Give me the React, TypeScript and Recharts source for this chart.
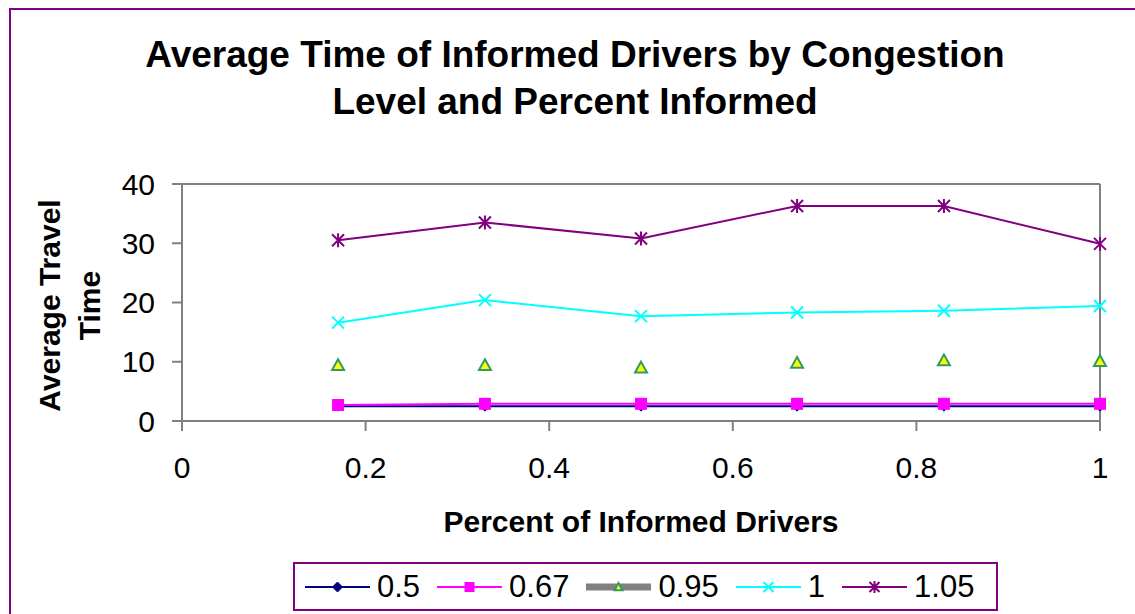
import React from 'react'
import { LineChart, Line, XAxis, YAxis, Legend, ReferenceLine } from 'recharts'

// percent of informed drivers (x) and average travel time per congestion level
const pctInformed = [0.17, 0.33, 0.5, 0.67, 0.83, 1]
const level050 = [2.5, 2.5, 2.5, 2.5, 2.5, 2.5]
const level067 = [2.7, 2.9, 2.9, 2.9, 2.9, 2.9]
const level095 = [9.4, 9.4, 9.0, 9.8, 10.2, 10.1]
const level100 = [16.6, 20.4, 17.7, 18.3, 18.6, 19.4]
const level105 = [30.5, 33.5, 30.8, 36.3, 36.3, 29.9]

const xTicks = [0, 0.2, 0.4, 0.6, 0.8, 1]
const yTicks = [0, 10, 20, 30, 40]

const data = pctInformed.map((x, i) => ({
  x,
  l050: level050[i],
  l067: level067[i],
  l095: level095[i],
  l100: level100[i],
  l105: level105[i],
}))

const FONT = '"Liberation Sans", Arial, sans-serif'
const GRAY = '#808080'
const PURPLE = '#800080'

function Diamond({ cx, cy, s = 5 }: any) {
  return <path d={`M${cx},${cy - s}L${cx + s},${cy}L${cx},${cy + s}L${cx - s},${cy}Z`} fill="#000080" stroke="#000080" />
}
function Square({ cx, cy, s = 6 }: any) {
  return <rect x={cx - s} y={cy - s} width={s * 2} height={s * 2} fill="#FF00FF" />
}
function Tri({ cx, cy, s = 6 }: any) {
  return <path d={`M${cx},${cy - s}L${cx + s},${cy + s * 0.8}L${cx - s},${cy + s * 0.8}Z`} fill="#FFFF00" stroke="#339966" strokeWidth={2} />
}
function Cross({ cx, cy, s = 6 }: any) {
  return <path d={`M${cx - s},${cy - s}L${cx + s},${cy + s}M${cx + s},${cy - s}L${cx - s},${cy + s}`} stroke="#00FFFF" strokeWidth={2} />
}
function Star({ cx, cy, s = 6 }: any) {
  return <path d={`M${cx - s},${cy - s}L${cx + s},${cy + s}M${cx + s},${cy - s}L${cx - s},${cy + s}M${cx},${cy - s - 1}L${cx},${cy + s + 1}`} stroke={PURPLE} strokeWidth={2} />
}

const dotOf = (Shape: any) => (p: any) => <Shape key={`${p.dataKey}-${p.index}`} cx={p.cx} cy={p.cy} />

const series = [
  { key: 'l050', name: '0.5', color: '#000080', shape: Diamond, line: '#000080', lw: 2 },
  { key: 'l067', name: '0.67', color: '#FF00FF', shape: Square, line: '#FF00FF', lw: 2 },
  { key: 'l095', name: '0.95', color: 'none', shape: Tri, line: GRAY, lw: 7 },
  { key: 'l100', name: '1', color: '#00FFFF', shape: Cross, line: '#00FFFF', lw: 2 },
  { key: 'l105', name: '1.05', color: PURPLE, shape: Star, line: PURPLE, lw: 2 },
]

function LegendBox() {
  return (
    <div style={{ boxSizing: 'border-box', width: 705, height: 49, border: `2px solid ${PURPLE}`, display: 'flex', alignItems: 'center', paddingLeft: 10, fontFamily: FONT, fontSize: 31, color: '#000', background: '#fff' }}>
      {series.map(s => (
        <div key={s.key} style={{ display: 'flex', alignItems: 'center', marginRight: 17 }}>
          <svg width={65} height={20}>
            <line x1={0} y1={10} x2={65} y2={10} stroke={s.line} strokeWidth={s.lw} />
            <s.shape cx={32.5} cy={10} s={s.key === 'l095' ? 4 : 5} />
          </svg>
          <span style={{ marginLeft: 7 }}>{s.name}</span>
        </div>
      ))}
    </div>
  )
}

function YLabel({ viewBox }: any) {
  const cy = viewBox.y + viewBox.height / 2 + 3
  return (
    <g fontFamily={FONT} fontSize={30} fontWeight="bold" fill="#000">
      <text x={60} y={cy} textAnchor="middle" transform={`rotate(-90, 60, ${cy})`}>Average Travel</text>
      <text x={100} y={cy} textAnchor="middle" transform={`rotate(-90, 100, ${cy})`}>Time</text>
    </g>
  )
}

function XLabel({ viewBox }: any) {
  return (
    <text x={viewBox.x + viewBox.width / 2} y={532} textAnchor="middle" fontFamily={FONT} fontSize={30} fontWeight="bold" fill="#000">
      Percent of Informed Drivers
    </text>
  )
}

export default function App() {
  return (
    <div style={{ position: 'absolute', left: 0, top: 0, width: 1135, height: 614, background: '#fff', overflow: 'hidden' }}>
      <div style={{ position: 'absolute', left: 9, top: 8, width: 1200, height: 700, borderLeft: `2px solid ${PURPLE}`, borderTop: `2px solid ${PURPLE}` }} />
      <div style={{ position: 'absolute', left: 0, width: 1150, top: 31, textAlign: 'center', fontFamily: FONT, fontSize: 37, fontWeight: 'bold', lineHeight: '47px', color: '#000' }}>
        Average Time of Informed Drivers by Congestion<br />Level and Percent Informed
      </div>
      <LineChart width={1135} height={614} data={data} margin={{ top: 184, right: 35, bottom: 133, left: 82 }} style={{ position: 'absolute', left: 0, top: 0 }}>
        <XAxis dataKey="x" type="number" domain={[0, 1]} ticks={xTicks} interval={0} stroke={GRAY} strokeWidth={2} tickSize={10} tickMargin={26} height={60}
          tick={{ fill: '#000', fontSize: 30, fontFamily: FONT }} label={{ content: XLabel }} />
        <YAxis type="number" domain={[0, 40]} ticks={yTicks} interval={0} stroke={GRAY} strokeWidth={2} tickSize={10} tickMargin={17} width={100}
          tick={{ fill: '#000', fontSize: 30, fontFamily: FONT }} label={{ content: YLabel }} />
        <ReferenceLine y={40} stroke={GRAY} strokeWidth={2} />
        <ReferenceLine x={1} stroke={GRAY} strokeWidth={2} />
        {series.map(s => (
          <Line key={s.key} dataKey={s.key} name={s.name} type="linear" stroke={s.color} strokeWidth={s.key === 'l095' ? 0 : 2}
            dot={dotOf(s.shape)} activeDot={false} isAnimationActive={false} legendType="none" />
        ))}
        <Legend layout="horizontal" verticalAlign="middle" align="center" content={LegendBox}
          wrapperStyle={{ top: 562, left: 293, width: 705, height: 49 }} />
      </LineChart>
    </div>
  )
}
